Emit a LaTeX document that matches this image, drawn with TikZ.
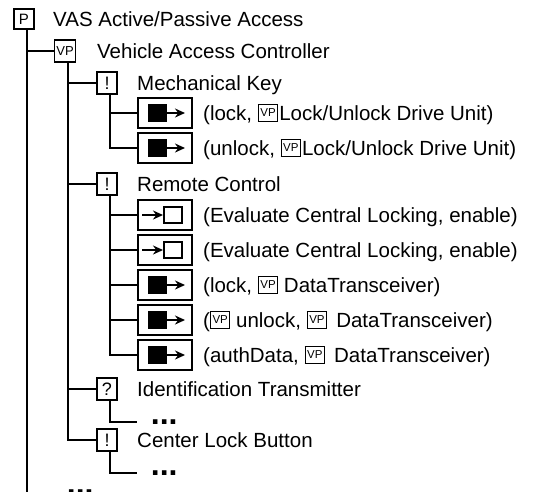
\documentclass[tikz,border=0pt]{standalone}
\usepackage{fontspec}
\setmainfont{Liberation Sans}
\usetikzlibrary{arrows.meta,calc}
\newcommand{\vpbox}{\raisebox{3.3pt}{\fboxsep=0pt\fboxrule=1.2pt\fbox{\makebox[18pt]{\rule[-4pt]{0pt}{16pt}\fontsize{11.5}{12}\selectfont VP}}}}
\tikzset{
  conn/.style={line width=2pt},
  lbox/.style={draw, line width=1.6pt, minimum width=20pt, minimum height=22pt, inner sep=0pt},
  evbox/.style={draw, line width=2pt, minimum width=54pt, minimum height=30pt, inner sep=0pt},
  lbl/.style={anchor=base west, inner sep=0pt, font=\fontsize{20.5}{24}\selectfont},
  dotsn/.style={anchor=west, inner xsep=13.7pt, inner ysep=0pt, text height=4.5pt, text depth=0pt, font=\fontsize{32}{32}\selectfont\bfseries},
  tip/.style={-{Stealth[length=10pt,width=9pt]}}
}
\newcommand{\outev}[1]{%
  \fill ($(#1.center)+(-17,-9)$) rectangle ($(#1.center)+(2,9)$);
  \draw[conn,tip] ($(#1.center)+(1,0)$) -- ($(#1.center)+(20,0)$);}
\newcommand{\inev}[1]{%
  \draw[conn,tip] ($(#1.center)+(-23,0)$) -- ($(#1.center)+(-2,0)$);
  \draw[line width=1.6pt] ($(#1.center)+(-1,-8)$) rectangle ($(#1.center)+(17,8)$);}
\begin{document}
\begin{tikzpicture}[x=1pt,y=-1pt]
\useasboundingbox (0,0) rectangle (533,491);
\clip (0,0) rectangle (533,491);
% boxes
\node[lbox, minimum height=20pt, font=\fontsize{15}{15}\selectfont] (p) at (24,19) {P};
\node[lbox, minimum width=21pt, font=\fontsize{13}{13}\selectfont] (vp) at (65,51) {VP};
\node[lbox, font=\fontsize{18}{18}\selectfont] (mk) at (107,83) {!};
\node[lbox, font=\fontsize{18}{18}\selectfont] (rc) at (107,184) {!};
\node[lbox, font=\fontsize{18}{18}\selectfont] (it) at (107,389) {?};
\node[lbox, font=\fontsize{18}{18}\selectfont] (cl) at (107,440) {!};
% event boxes
\node[evbox] (e1) at (165,113) {};
\node[evbox] (e2) at (165,148) {};
\node[evbox] (e3) at (165,215) {};
\node[evbox] (e4) at (165,250) {};
\node[evbox] (e5) at (165,285) {};
\node[evbox] (e6) at (165,320) {};
\node[evbox] (e7) at (165,355) {};
\outev{e1}\outev{e2}\inev{e3}\inev{e4}\outev{e5}\outev{e6}\outev{e7}
% labels
\node[lbl] (t1) at (53,26) {VAS Active/Passive Access};
\node[lbl] (t2) at (97,58) {Vehicle Access Controller};
\node[lbl] (t3) at (137,90) {Mechanical Key};
\node[lbl] (t4) at (203,120) {(lock, \vpbox{}\hspace{1pt}Lock/Unlock Drive Unit)};
\node[lbl] (t5) at (203,155) {(unlock, \vpbox{}\hspace{1pt}Lock/Unlock Drive Unit)};
\node[lbl] (t6) at (137,191) {Remote Control};
\node[lbl] (t7) at (203,222) {(Evaluate Central Locking, enable)};
\node[lbl] (t8) at (203,257) {(Evaluate Central Locking, enable)};
\node[lbl] (t9) at (203,292) {(lock, \vpbox{} DataTransceiver)};
\node[lbl] (t10) at (203,327) {(\vpbox{} unlock, \vpbox{} \,DataTransceiver)};
\node[lbl] (t11) at (203,362) {(authData, \vpbox{} \,DataTransceiver)};
\node[lbl] (t12) at (137,396) {Identification Transmitter};
\node[lbl] (t13) at (137,447) {Center Lock Button};
% dots
\node[dotsn] (d1) at (137,422) {...};
\node[dotsn] (d2) at (137,473) {...};
\node[dotsn] (d3) at (53,492.5) {...};
% connectors
\coordinate (pl) at ([xshift=3pt]p.south);
\coordinate (vpl) at ([xshift=3pt]vp.south);
\coordinate (mkl) at ([xshift=3pt]mk.south);
\coordinate (rcl) at ([xshift=3pt]rc.south);
\coordinate (itl) at ([xshift=3pt]it.south);
\coordinate (cll) at ([xshift=3pt]cl.south);
\coordinate (bot) at (27,500);
\draw[conn] (pl) -- (pl |- bot);
\draw[conn] (pl) |- (vp.west);
\foreach \c in {mk,rc,it,cl} \draw[conn] (vpl) |- (\c.west);
\foreach \c in {e1,e2} \draw[conn] (mkl) |- (\c.west);
\foreach \c in {e3,e4,e5,e6,e7} \draw[conn] (rcl) |- (\c.west);
\draw[conn] (itl) |- (d1.west);
\draw[conn] (cll) |- (d2.west);
\end{tikzpicture}
\end{document}
